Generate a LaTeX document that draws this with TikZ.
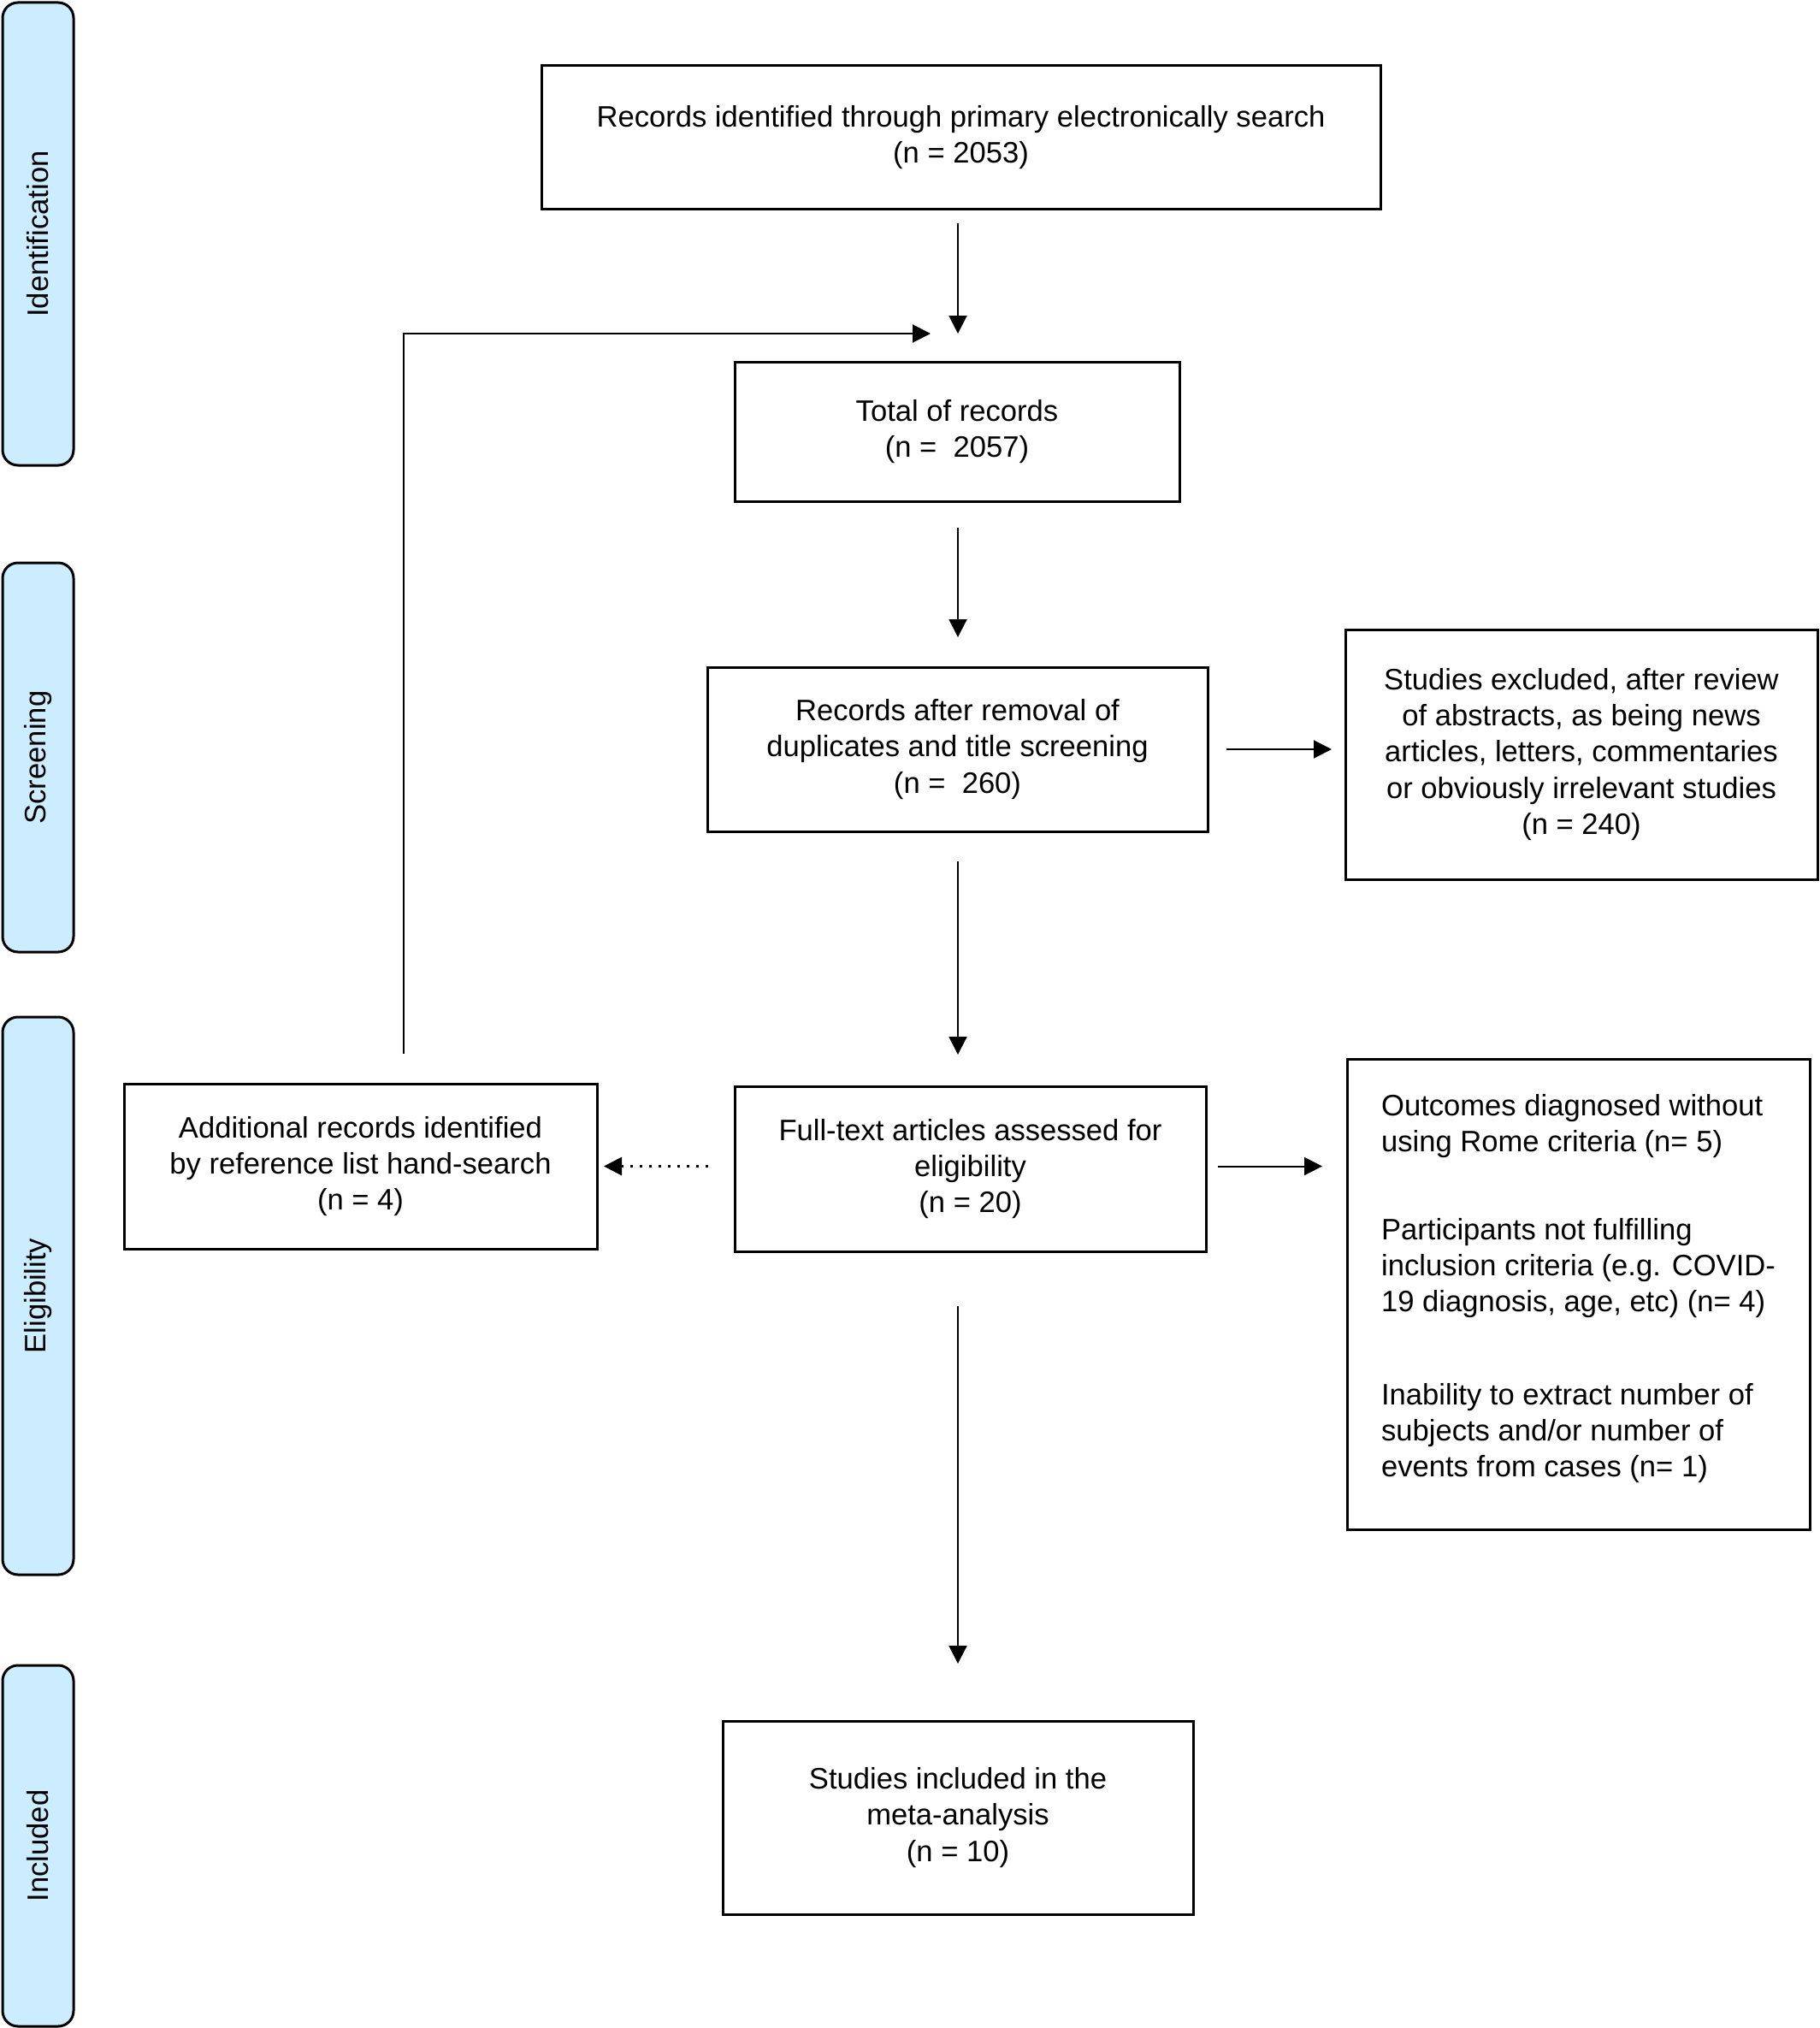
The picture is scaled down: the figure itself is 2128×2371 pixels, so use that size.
\documentclass[tikz,border=0pt]{standalone}
\usepackage{fontspec}
\setmainfont{Liberation Sans}
\usetikzlibrary{arrows.meta,calc}
\definecolor{bandblue}{RGB}{204,236,255}
\begin{document}
\begin{tikzpicture}[x=0.5pt,y=-0.5pt,
  every node/.style={font=\fontsize{17.3pt}{21.15pt}\selectfont, outer sep=0pt, inner sep=0pt},
  box/.style={draw=black, line width=1.5pt, rectangle, align=center},
  band/.style={draw=black, line width=1.5pt, fill=bandblue, rounded corners=9pt, rotate=90, minimum height=41.5pt},
  arr/.style={line width=1pt, -{Triangle[length=10.5pt,width=10.5pt]}},
  dotarr/.style={line width=1.5pt, dash pattern=on 1.5pt off 4pt, -{Triangle[length=10.5pt,width=10.5pt]}}
]
\useasboundingbox (0,0) rectangle (2128,2371);
\fill[white] (0,0) rectangle (2128,2371);

% phase bands
\node[band, minimum width=270.5pt] (bid) at (44.5,273.5) {Identification};
\node[band, minimum width=227.5pt] (bsc) at (44.5,885.5) {Screening};
\node[band, minimum width=326pt] (bel) at (44.5,1515) {Eligibility};
\node[band, minimum width=211pt] (bin) at (44.5,2158) {Included};

% boxes
\node[box, minimum width=490.5pt, minimum height=83.5pt] (B1) at (1123.5,160.5)
  {Records identified through primary electronically search\\(n = 2053)};
\node[box, minimum width=260pt, minimum height=81.5pt] (B2) at (1119,504.5)
  {Total of records\\(n =\ \ 2057)};
\node[box, minimum width=292.5pt, minimum height=96pt] (B3) at (1119.5,876)
  {Records after removal of\\duplicates and title screening\\(n =\ \ 260)};
\node[box, minimum width=276pt, minimum height=146pt] (B4) at (1849,882)
  {Studies excluded, after review\\of abstracts, as being news\\articles, letters, commentaries\\or obviously irrelevant studies\\(n = 240)};
\node[box, minimum width=275.5pt, minimum height=96.5pt] (B5) at (1134.5,1366.5)
  {Full-text articles assessed for\\eligibility\\(n = 20)};
\node[box, minimum width=276.5pt, minimum height=96.5pt] (B6) at (421.5,1363.5)
  {Additional records identified\\by reference list hand-search\\(n = 4)};
\node[box, minimum width=270.5pt, minimum height=275pt, align=left, text depth=10pt] (B7) at (1845.5,1513)
  {Outcomes diagnosed without\\using Rome criteria (n= 5)\\[30pt]Participants not fulfilling\\inclusion criteria (e.g. COVID-\\19 diagnosis, age, etc) (n= 4)\\[33pt]Inability to extract number of\\subjects and/or number of\\events from cases (n= 1)};
\node[box, minimum width=275pt, minimum height=113pt] (B8) at (1120,2125)
  {Studies included in the\\meta-analysis\\(n = 10)};

\coordinate (m) at (1120,390);

% connectors
\draw[arr, shorten <=8.5pt] (B1.south -| m) -- (m);
\draw[arr, shorten <=17.5pt, shorten >=16pt] ([xshift=25.25pt]B6.north) |- (m);
\draw[arr, shorten <=15.5pt, shorten >=17.5pt] (B2.south -| m) -- (m |- B3.north);
\draw[arr, shorten <=11pt, shorten >=8pt] (B3.east) -- (B3.east -| B4.west);
\draw[arr, shorten <=17.5pt, shorten >=18.5pt] (B3.south -| m) -- (m |- B5.north);
\draw[arr, shorten <=7pt, shorten >=14.5pt] ([yshift=1.5pt]B5.east) -- ([yshift=1.5pt]B5.east -| B7.west);
\draw[dotarr, shorten <=15.5pt, shorten >=4pt] ([yshift=1.5pt]B5.west) -- ([yshift=1.5pt]B5.west -| B6.east);
\draw[arr, shorten <=32pt, shorten >=33.5pt] (B8.north |- B5.south) -- (B8.north);
\end{tikzpicture}
\end{document}
